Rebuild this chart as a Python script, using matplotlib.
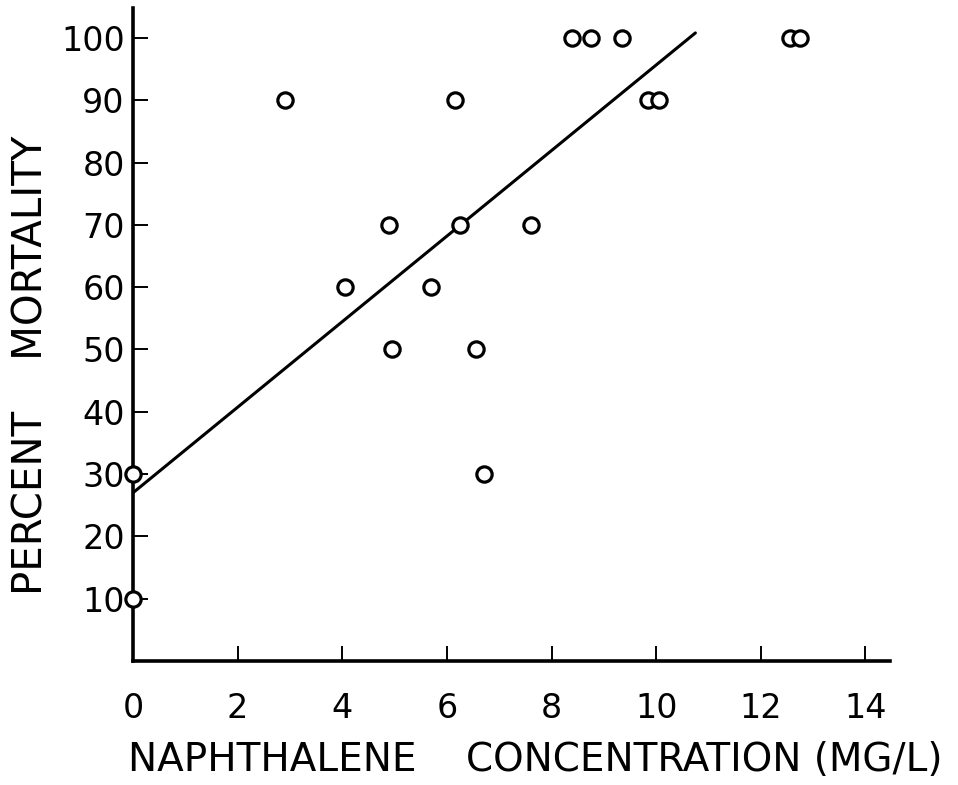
import matplotlib.pyplot as plt
import numpy as np

# naphthalene concentration (mg/l) vs percent mortality
conc = [0.0, 0.0, 2.9, 4.05, 4.9, 4.95, 5.7, 6.15, 6.25, 6.55, 6.7, 7.6,
        8.4, 8.75, 9.35, 9.85, 10.05, 12.55, 12.75]
mortality = [30, 10, 90, 60, 70, 50, 60, 90, 70, 50, 30, 70,
             100, 100, 100, 90, 90, 100, 100]

# fitted line end points
fit_x = [0.0, 10.75]
fit_y = [27.0, 100.8]

xticks = [0, 2, 4, 6, 8, 10, 12, 14]
yticks = [10, 20, 30, 40, 50, 60, 70, 80, 90, 100]

fig = plt.figure(figsize=(9.58, 7.85), dpi=100)
ax = fig.add_axes([133 / 958, 124 / 785, 757 / 958, 653 / 785])

ax.plot(fit_x, fit_y, color='black', lw=2.2, solid_capstyle='round')
ax.plot(conc, mortality, 'o', ms=11, mfc='white', mec='black', mew=2.3,
        clip_on=False, zorder=5)

ax.set_xlim(0, 14.47)
ax.set_ylim(0, 104.8)
ax.spines['top'].set_visible(False)
ax.spines['right'].set_visible(False)
ax.spines['left'].set_linewidth(2.6)
ax.spines['bottom'].set_linewidth(2.6)

ax.set_xticks(xticks)
ax.set_yticks(yticks)
ax.tick_params(direction='in', length=11, width=1.4, labelsize=24)
ax.tick_params(axis='x', pad=22)
ax.tick_params(axis='y', pad=6)

ax.set_xlabel('NAPHTHALENE    CONCENTRATION (MG/L)', fontsize=28)
ax.xaxis.set_label_coords(0.531, -0.123)
ax.set_ylabel('PERCENT    MORTALITY', fontsize=29)
ax.yaxis.set_label_coords(-0.108, 0.453)

fig.savefig('out.png', dpi=100)
